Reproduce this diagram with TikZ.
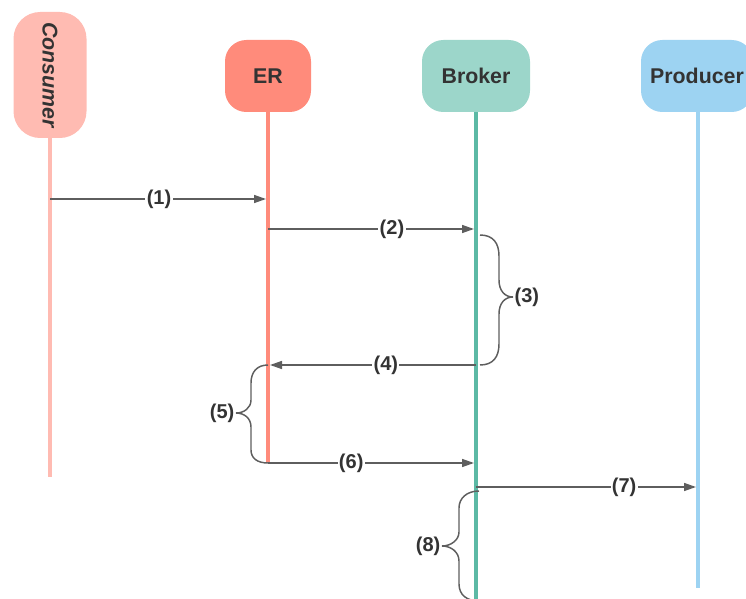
\documentclass[tikz,border=0pt]{standalone}
\usepackage{fontspec}
\setmainfont{Liberation Sans}
\usetikzlibrary{arrows.meta}

\definecolor{texto}{HTML}{333333}
\definecolor{flecha}{HTML}{5E5E5E}
\definecolor{consumer}{HTML}{FFBBB2}
\definecolor{er}{HTML}{FF8B7B}
\definecolor{broker}{HTML}{9CD6CA}
\definecolor{brokerlinea}{HTML}{5CB9A5}
\definecolor{producer}{HTML}{9DD3F2}

\begin{document}
\begin{tikzpicture}[x=0.75pt,y=-0.75pt,>={Triangle[length=9pt,width=6pt]}]
	\tikzstyle{actor}=[rounded corners=16pt,text=texto,inner sep=0pt,minimum height=54pt,font=\fontsize{16}{19}\selectfont\bfseries]
	\tikzstyle{vida}=[line width=3pt]
	\tikzstyle{msg}=[->,shorten >=1.5pt,draw=flecha,line width=1.1pt]
	\tikzstyle{lbl}=[fill=white,text=texto,inner sep=1pt,font=\fontsize{15}{18}\selectfont\bfseries]
	\tikzstyle{llave}=[draw=flecha,line width=1.1pt]

	\useasboundingbox (0,0) rectangle (746,599);
	\clip (0,0) rectangle (746,599);

	% Lineas de vida
	\coordinate (Consumer-fin) at (50,477);
	\coordinate (ER-fin) at (268,463);
	\coordinate (Broker-fin) at (476,605);
	\coordinate (Producer-fin) at (698,588);
	\draw[vida, line width=2.3pt, consumer] (50,120) -- (Consumer-fin);
	\draw[vida, er] (268,100) -- (ER-fin);
	\draw[vida, brokerlinea] (476,100) -- (Broker-fin);
	\draw[vida, producer] (698,100) -- (Producer-fin);

	% Participantes
	\node[actor, fill=consumer, rotate=-90, rounded corners=20pt, minimum width=94.5pt, minimum height=54.75pt,
		font=\fontsize{16}{19}\selectfont\bfseries\itshape] (Consumer) at (50,75) {Consumer};
	\foreach \name/\x/\w/\col in {ER/268/64.5pt/er, Broker/476/81pt/broker, Producer/697/84pt/producer}
	\node[actor, fill=\col, minimum width=\w] (\name) at (\x,76) {\name};

	% Mensajes
	\coordinate (m1a) at (50,199);   \coordinate (m1b) at (268,199);
	\coordinate (m2a) at (268,229);  \coordinate (m2b) at (476,229);
	\coordinate (m4a) at (476,365);  \coordinate (m4b) at (268,365);
	\coordinate (m6a) at (268,463);  \coordinate (m6b) at (476,463);
	\coordinate (m7a) at (476,487);  \coordinate (m7b) at (698,487);

	\draw[msg] (m1a) -- node[lbl] (l1) {(1)} (m1b);
	\draw[msg] (m2a) -- node[lbl, pos=0.596] (l2) {(2)} (m2b);
	\draw[msg] (m4a) -- node[lbl, pos=0.433] (l4) {(4)} (m4b);
	\draw[msg] (m6a) -- node[lbl, pos=0.40] (l6) {(6)} (m6b);
	\draw[msg] (m7a) -- node[lbl, pos=0.667] (l7) {(7)} (m7b);

	% Llaves
	\draw[llave] (480,235) .. controls (493,235) and (499,243) .. (499,256) -- (499,280)
		.. controls (499,291) and (505,297) .. (513,297)
		.. controls (505,297) and (499,303) .. (499,314) -- (499,344)
		.. controls (499,357) and (493,365) .. (480,365);
	\node[lbl, fill=none, anchor=west] (l3) at (513,297) {(3)};

	\draw[llave] (268,365) .. controls (257,365) and (251,372) .. (251,383) -- (251,400)
		.. controls (251,408) and (244,413) .. (236,413)
		.. controls (244,413) and (251,418) .. (251,427) -- (251,450)
		.. controls (251,458) and (257,463) .. (268,463);
	\node[lbl, fill=none, anchor=east] (l5) at (236,413) {(5)};

	\draw[llave] (479,491) .. controls (467,491) and (459,498) .. (459,508) -- (459,532)
		.. controls (459,540) and (451,546) .. (442,546)
		.. controls (451,546) and (459,552) .. (459,561) -- (459,584)
		.. controls (459,595) and (467,601) .. (479,601);
	\node[lbl, fill=none, anchor=east] (l8) at (442,546) {(8)};
\end{tikzpicture}
\end{document}
